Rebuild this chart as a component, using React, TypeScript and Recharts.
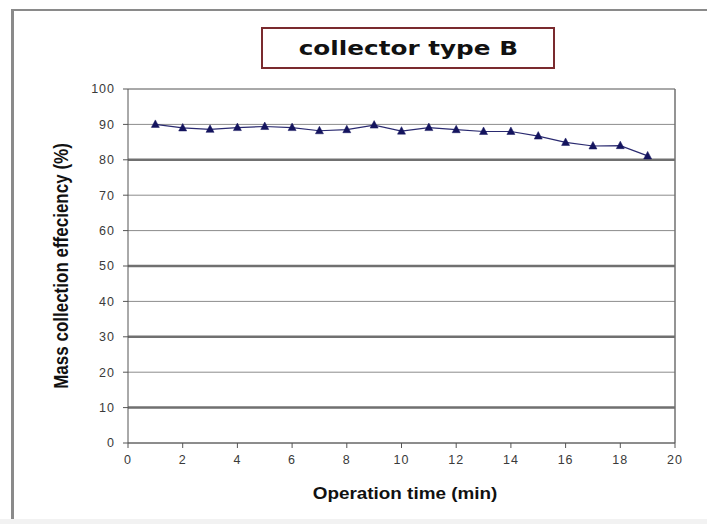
import React from 'react';
import { LineChart, Line, XAxis, YAxis, CartesianGrid, ReferenceLine } from 'recharts';

const times = [1, 2, 3, 4, 5, 6, 7, 8, 9, 10, 11, 12, 13, 14, 15, 16, 17, 18, 19];
const efficiency = [90, 89, 88.6, 89.1, 89.4, 89.1, 88.2, 88.5, 89.8, 88.1, 89.1, 88.5, 88.0, 88.0, 86.7, 84.9, 83.9, 84.0, 81.1];
const xTicks = [0, 2, 4, 6, 8, 10, 12, 14, 16, 18, 20];
const yTicks = [0, 10, 20, 30, 40, 50, 60, 70, 80, 90, 100];
const heavyGrid = [80, 50, 30, 10];

const data = times.map((t, i) => ({ t, v: efficiency[i] }));

const Tri = (props: any) => {
  const { cx, cy } = props;
  if (cx == null || cy == null) return null;
  return (
    <polygon
      points={`${cx},${cy - 4.5} ${cx - 4},${cy + 3} ${cx + 4},${cy + 3}`}
      fill="#14145e"
      stroke="#14145e"
      strokeWidth={0.5}
    />
  );
};

export default function App() {
  const font = 'Liberation Sans, Arial, sans-serif';
  const tickStyle = { fill: '#3a3a3a', fontSize: 12.5, fontFamily: font, letterSpacing: 1 };
  return (
    <div style={{ position: 'absolute', left: 0, top: 0, width: 707, height: 524, background: '#fff', overflow: 'hidden' }}>
      {/* outer frame */}
      <div style={{ position: 'absolute', left: 11, top: 9, width: 700, height: 510, borderTop: '2px solid #8a8a8a', borderLeft: '3px solid #8a8a8a' }} />
      <div style={{ position: 'absolute', left: 0, top: 519, width: 707, height: 5, background: '#f2f2f2' }} />
      <div style={{ position: 'absolute', left: 0, top: 0 }}>
        <LineChart width={707} height={524} data={data} margin={{ top: 89, right: 32, left: 0, bottom: 0 }}>
          <CartesianGrid vertical={false} stroke="#8c8c8c" strokeWidth={1} />
          {heavyGrid.map((g) => (
            <ReferenceLine key={g} y={g} stroke="#707070" strokeWidth={2.5} ifOverflow="extendDomain" />
          ))}
          <ReferenceLine y={100} stroke="#8c8c8c" strokeWidth={1} />
          <ReferenceLine x={20} stroke="#707070" strokeWidth={1.5} />
          <XAxis
            dataKey="t"
            type="number"
            domain={[0, 20]}
            ticks={xTicks}
            interval={0}
            height={81}
            tickSize={5}
            tickMargin={7}
            stroke="#555"
            tick={tickStyle}
          />
          <YAxis
            domain={[0, 100]}
            ticks={yTicks}
            interval={0}
            width={128}
            tickSize={5}
            tickMargin={8}
            stroke="#555"
            tick={tickStyle}
          />
          <Line
            dataKey="v"
            stroke="#2a2a70"
            strokeWidth={1.2}
            dot={<Tri />}
            activeDot={false}
            isAnimationActive={false}
          />
        </LineChart>
      </div>
      {/* title box */}
      <div
        style={{
          position: 'absolute',
          left: 261,
          top: 27,
          width: 290,
          height: 38,
          border: '2px solid #7a2a2e',
          display: 'flex',
          alignItems: 'center',
          justifyContent: 'center',
        }}
      >
        <span
          style={{
            display: 'inline-block',
            transform: 'scaleX(1.3)',
            whiteSpace: 'nowrap',
            fontFamily: 'DejaVu Sans, Verdana, sans-serif',
            fontWeight: 'bold',
            fontSize: 19,
            color: '#111',
          }}
        >
          collector type B
        </span>
      </div>
      {/* y axis label */}
      <div
        style={{
          position: 'absolute',
          left: 62,
          top: 266,
          transform: 'translate(-50%, -50%) rotate(-90deg) scaleY(1.2)',
          whiteSpace: 'nowrap',
          fontFamily: font,
          fontWeight: 'bold',
          fontSize: 17,
          color: '#111',
        }}
      >
        Mass collection effeciency (%)
      </div>
      {/* x axis label */}
      <div
        style={{
          position: 'absolute',
          left: 405,
          top: 494,
          transform: 'translate(-50%, -50%) scaleX(1.18)',
          whiteSpace: 'nowrap',
          fontFamily: font,
          fontWeight: 'bold',
          fontSize: 16,
          color: '#111',
        }}
      >
        Operation time (min)
      </div>
    </div>
  );
}
